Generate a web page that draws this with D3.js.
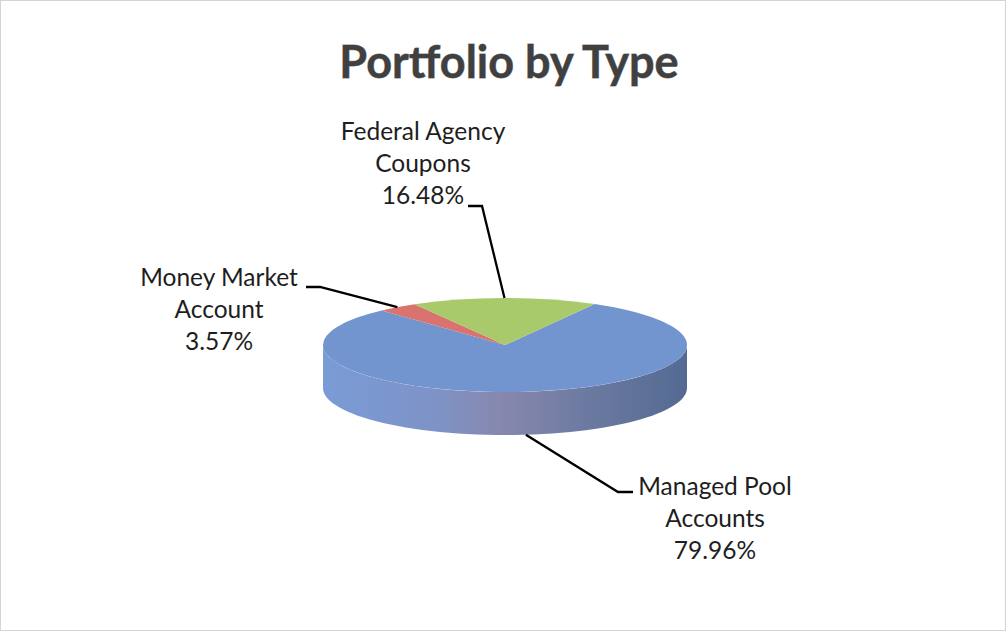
<!DOCTYPE html>
<html>
<head>
<meta charset="utf-8">
<script src="https://cdn.jsdelivr.net/npm/d3@7"></script>
<style>
  html, body { margin: 0; padding: 0; background: #fff; }
  svg { display: block; }
</style>
</head>
<body>
<main></main>
<script>
const categories = ['Managed Pool Accounts', 'Money Market Account', 'Federal Agency Coupons'];
const values = [79.96, 3.57, 16.48];
const labelLines = [
    ['Managed Pool', 'Accounts', '79.96%'],
    ['Money Market', 'Account', '3.57%'],
    ['Federal Agency', 'Coupons', '16.48%']
];
const colors = ['#7395cf', '#d9736f', '#a8ca6b'];

const w = 1006;
const h = 631;
const cx = 505, cy = 345;   // centre of the top face
const rx = 182, ry = 47;    // ellipse radii
const depth = 43;           // height of the cylinder wall

const svg = d3.select('main').append('svg').attr('width', w).attr('height', h);

svg.append('rect')
    .attr('x', 0.5).attr('y', 0.5)
    .attr('width', w - 1).attr('height', h - 1)
    .attr('fill', '#fff')
    .attr('stroke', '#d4d4d4');

const defs = svg.append('defs');
const grad = defs.append('linearGradient')
    .attr('id', 'side')
    .attr('gradientUnits', 'userSpaceOnUse')
    .attr('x1', cx - rx).attr('x2', cx + rx)
    .attr('y1', 0).attr('y2', 0);
[['0%', '#7a9bd5'], ['30%', '#7e93c8'], ['50%', '#8787ad'], ['72%', '#6c7aa1'], ['100%', '#546a92']]
    .forEach(s => grad.append('stop').attr('offset', s[0]).attr('stop-color', s[1]));

const pie = d3.pie().sort(null)
    .startAngle(29.5 * Math.PI / 180)
    .endAngle(29.5 * Math.PI / 180 + 2 * Math.PI);
const arcs = pie(values);

// point on the top ellipse for a clock angle (0 = 12 o'clock, clockwise)
const pt = (a, dy = 0) => [cx + rx * Math.sin(a), cy - ry * Math.cos(a) + dy];

// side wall: front half of the ellipse, from right extreme to left extreme
const steps = d3.range(0, 61).map(i => Math.PI / 2 + i * Math.PI / 60);
const wallPts = steps.map(a => pt(a)).concat(steps.slice().reverse().map(a => pt(a, depth)));
svg.append('path')
    .attr('d', d3.line()(wallPts) + 'Z')
    .attr('fill', 'url(#side)');

// top face
const arc = d3.arc().innerRadius(0).outerRadius(rx);
svg.append('g')
    .attr('transform', `translate(${cx},${cy}) scale(1,${ry / rx})`)
    .selectAll('path')
    .data(arcs)
    .enter().append('path')
    .attr('d', arc)
    .attr('fill', (d, i) => colors[i]);

// labels
const lineH = 32;
const labelPos = [[715, 495], [219, 286], [423, 140]];
const labels = svg.append('g')
    .attr('font-family', 'Lato, "Open Sans", sans-serif')
    .attr('font-size', 24.5)
    .attr('fill', '#1e1e1e')
    .attr('text-anchor', 'middle');
labelLines.forEach((lines, i) => {
    lines.forEach((t, j) => {
        labels.append('text')
            .attr('x', labelPos[i][0])
            .attr('y', labelPos[i][1] + j * lineH)
            .text(t);
    });
});

// leader lines: anchor on slice, then to label
const anchors = arcs.map((d, i) => {
    const mid = (d.startAngle + d.endAngle) / 2;
    return i === 0 ? pt(mid, depth) : pt(mid);
});
const leaderEnds = [
    [[618, 492], [633, 492]],
    [[320, 287], [306, 287]],
    [[482, 206], [468, 206]]
];
anchors.forEach((a, i) => {
    svg.append('path')
        .attr('d', d3.line()([a].concat(leaderEnds[i])))
        .attr('fill', 'none')
        .attr('stroke', '#000')
        .attr('stroke-width', 2.3);
});

// title
svg.append('text')
    .attr('x', 509)
    .attr('y', 78)
    .attr('text-anchor', 'middle')
    .attr('font-family', 'Lato, "Open Sans", sans-serif')
    .attr('font-weight', 'bold')
    .attr('font-size', 45)
    .attr('fill', '#404040')
    .attr('stroke', '#8a8a8a')
    .attr('stroke-width', 0.8)
    .attr('paint-order', 'stroke')
    .text('Portfolio by Type');
</script>
</body>
</html>
